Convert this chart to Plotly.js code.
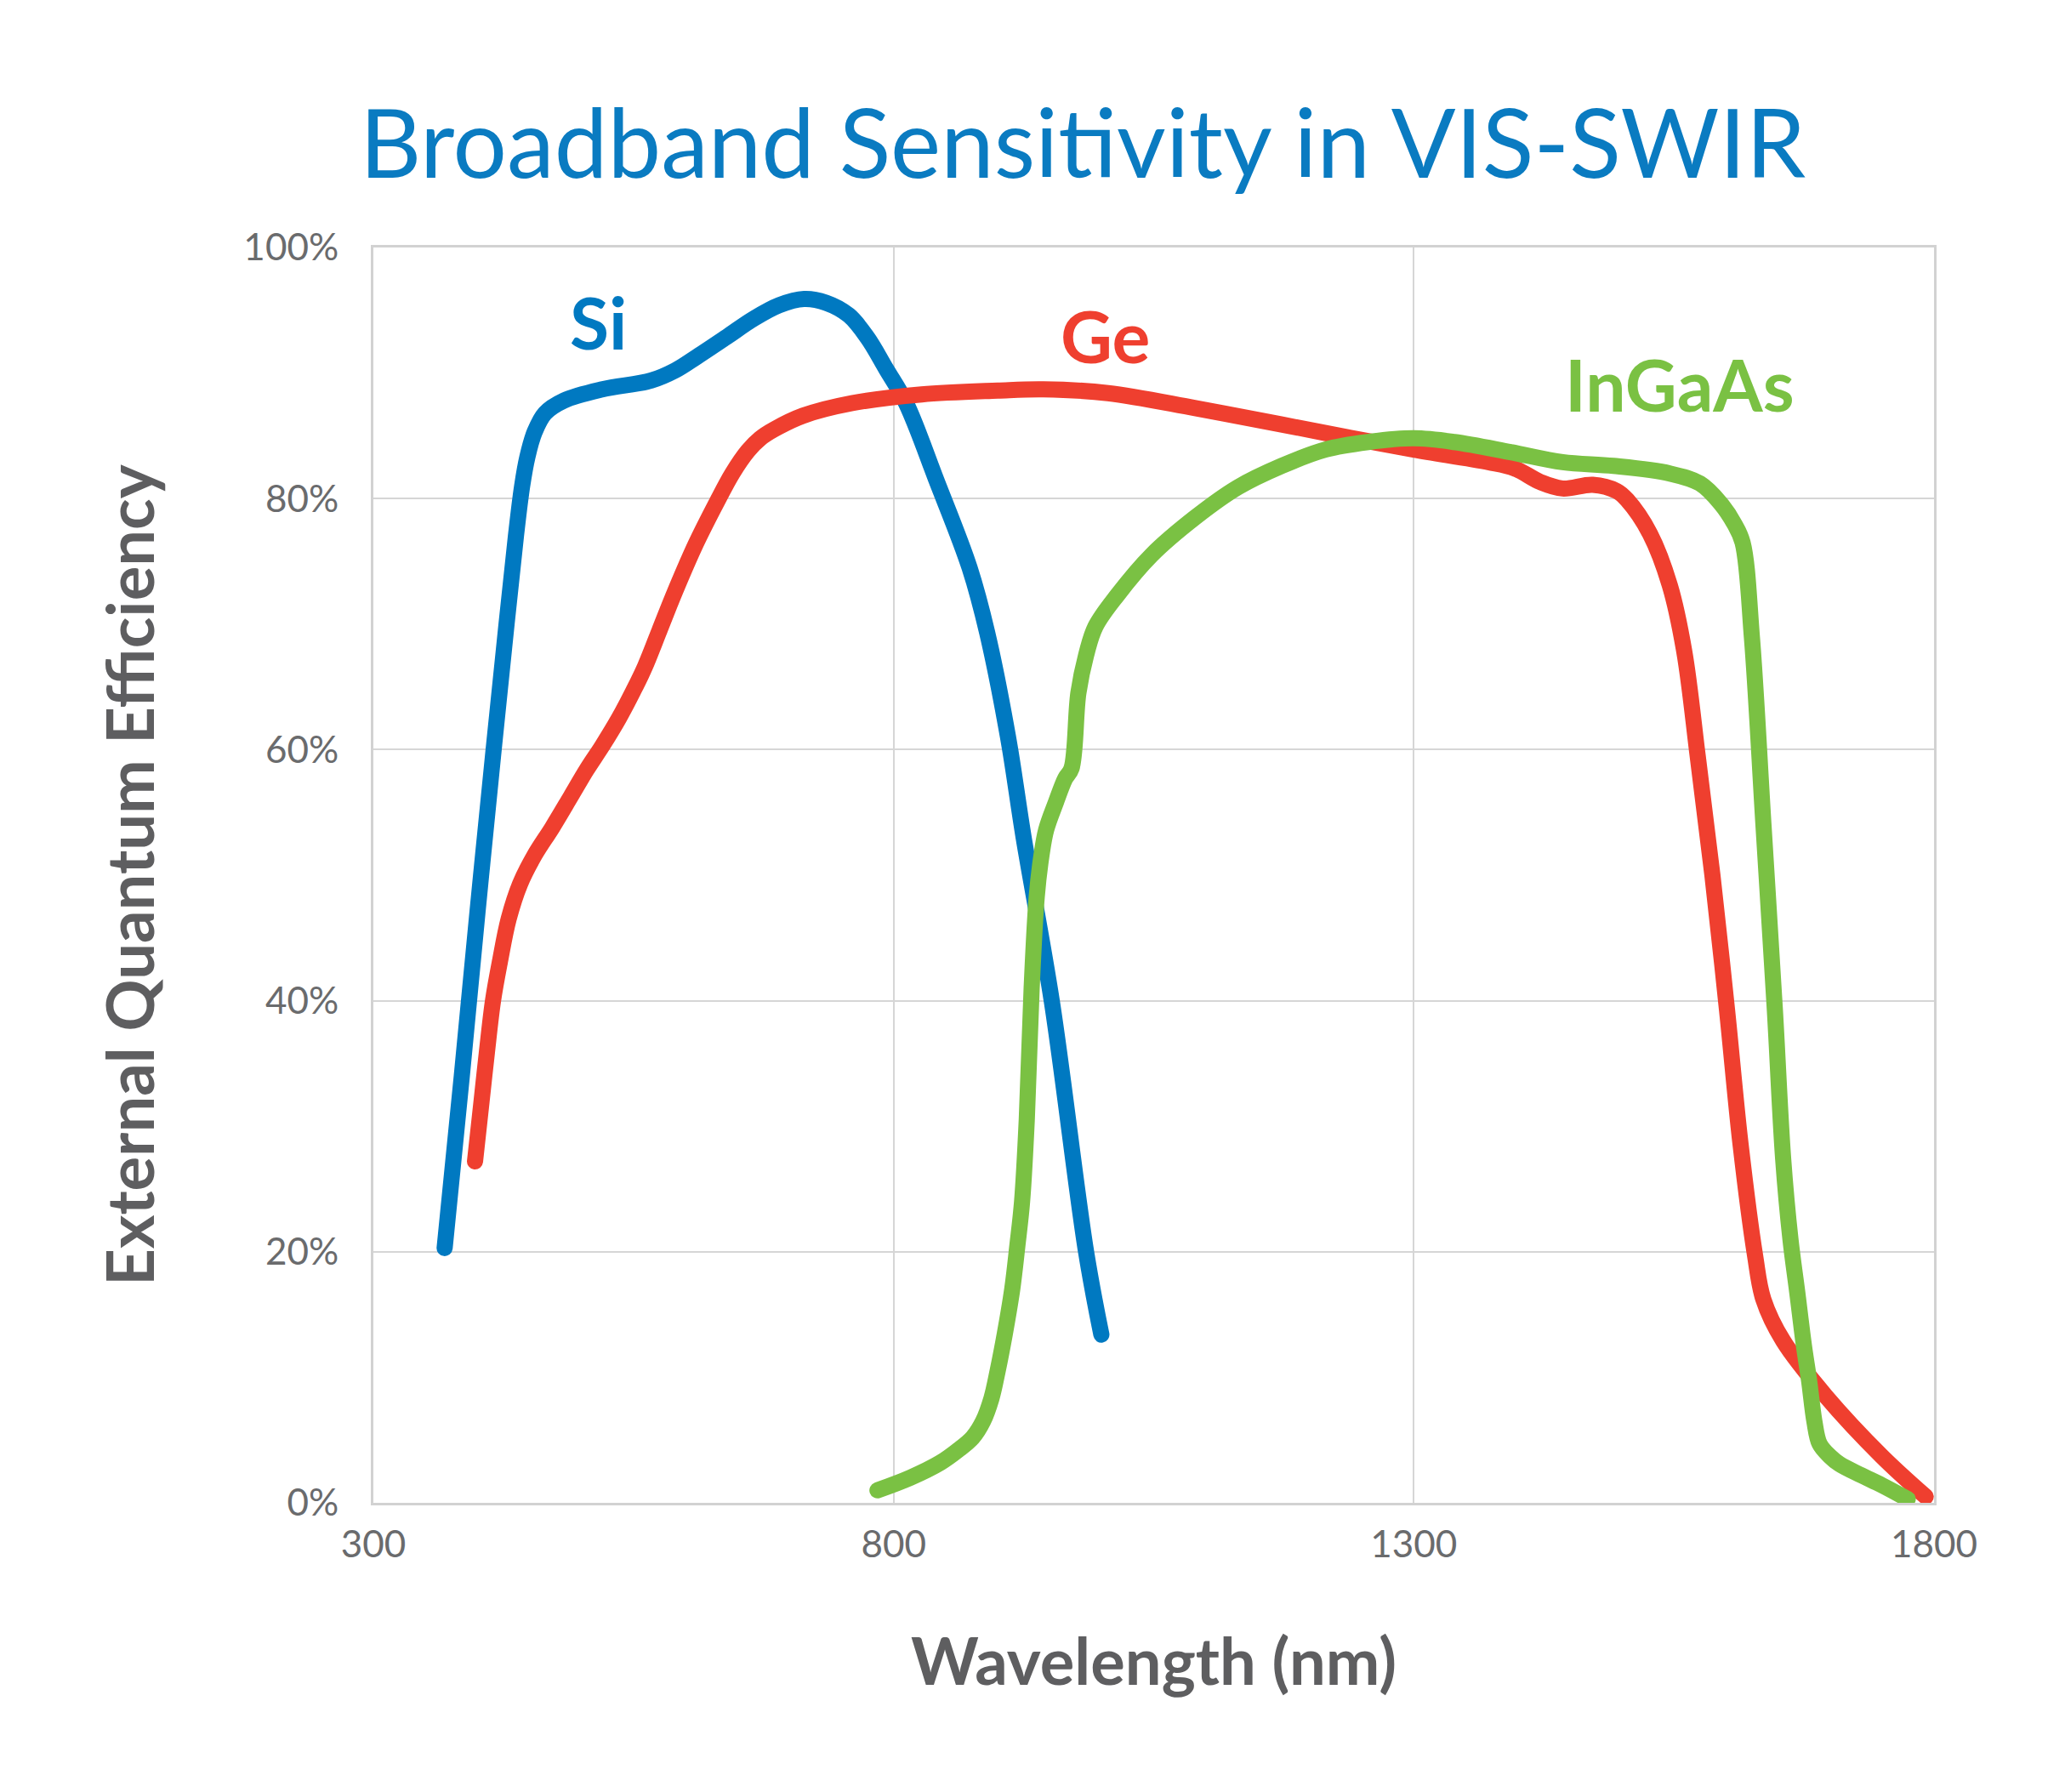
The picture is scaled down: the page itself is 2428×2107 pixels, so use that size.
<!DOCTYPE html>
<html>
<head>
<meta charset="utf-8">
<script src="https://cdn.plot.ly/plotly-3.0.1.min.js"></script>
<style>
  html, body { margin: 0; padding: 0; background: #ffffff; }
  #chart { width: 2428px; height: 2107px; }
  path.js-line { stroke-linecap: round !important; }
</style>
</head>
<body>
<div id="chart"></div>
<script>
// ---- Data ----
const siWavelength = [368.5, 385, 400, 415, 428, 437, 443, 448, 455, 465, 483, 520, 567, 590, 611, 640, 665, 690, 714, 735, 757, 775, 793, 812, 841, 873, 890, 910, 925, 952, 985, 999.7];
const siQE         = [20.3, 34, 47, 59.5, 70, 77, 81, 83.3, 85.3, 86.8, 87.8, 88.7, 89.4, 90.2, 91.3, 92.9, 94.3, 95.4, 95.9, 95.6, 94.6, 92.8, 90.3, 87.6, 81.5, 74.5, 69.3, 61, 53, 40, 20, 13.4];

const geWavelength = [397.7, 404, 409, 415, 421.6, 430, 441, 455, 472, 490, 505, 520, 536, 550, 561, 575, 590, 610, 630, 645, 660, 672, 685, 713, 760, 827, 900, 944, 1006, 1090, 1173, 1235, 1300, 1372, 1397, 1422, 1443, 1472, 1495, 1505, 1527, 1546, 1560, 1573, 1587, 1601, 1614, 1628, 1636, 1655, 1696, 1750, 1792];
const geQE         = [27.2, 32, 35.8, 40, 43.1, 46.5, 49.3, 51.6, 53.8, 56.3, 58.4, 60.3, 62.5, 64.7, 66.6, 69.5, 72.6, 76.4, 79.7, 82, 83.8, 84.8, 85.5, 86.6, 87.6, 88.3, 88.6, 88.7, 88.4, 87.2, 85.9, 84.9, 83.9, 82.9, 82.4, 81.3, 80.8, 81.1, 80.6, 79.9, 77.2, 73.1, 67.8, 59.4, 50, 39.3, 28.6, 19.7, 16.2, 12.9, 8.5, 3.7, 0.5];

const ingaasWavelength = [784.5, 816, 845, 862, 876, 886, 894, 900, 907, 914, 919, 923.5, 928, 932.7, 937.6, 942, 946.6, 956, 965, 971, 977.6, 985, 994, 1015, 1048, 1090, 1131, 1173, 1215, 1256, 1300, 1339, 1393, 1443, 1492, 1546, 1575, 1595, 1608, 1616, 1625, 1636, 1647, 1655, 1662, 1668.5, 1675, 1680, 1685, 1690, 1700, 1709, 1730, 1750, 1774.7];
const ingaasQE         = [1.0, 2.0, 3.2, 4.2, 5.2, 6.5, 8.3, 10.5, 13.5, 17, 20.5, 24, 30.5, 41, 48.3, 51.5, 53.6, 55.8, 57.7, 58.5, 64.5, 67.5, 69.8, 72.3, 75.5, 78.5, 80.9, 82.6, 83.9, 84.5, 84.8, 84.5, 83.7, 82.9, 82.6, 82, 81.2, 79.6, 78, 76.5, 68.9, 54.1, 39.3, 27.4, 21, 16.8, 12.5, 9.7, 6.5, 4.7, 3.7, 3.1, 2.2, 1.4, 0.3];

const seriesNames  = ["Si", "Ge", "InGaAs"];
const labelX       = [516.6, 1003, 1555.6];
const labelY       = [94.1, 93.0, 89.1];

const xTickVals = [300, 800, 1300, 1800];
const xTickText = ["300", "800", "1300", "1800"];
const yTickVals = [0, 20, 40, 60, 80, 100];
const yTickText = ["0%", "20%", "40%", "60%", "80%", "100%"];

// ---- Styles ----
const colors = ["#0079c1", "#ef3f2f", "#7ac143"];
const lineW = 19;

const xs = [siWavelength, geWavelength, ingaasWavelength];
const ys = [siQE, geQE, ingaasQE];

const traces = seriesNames.map((n, i) => ({
  type: "scatter",
  mode: "lines",
  name: n,
  x: xs[i],
  y: ys[i],
  line: { color: colors[i], width: lineW, shape: "spline", smoothing: 1 },
  hoverinfo: "skip"
}));

const annotations = seriesNames.map((n, i) => ({
  text: n,
  x: labelX[i],
  y: labelY[i],
  xref: "x",
  yref: "y",
  showarrow: false,
  xanchor: "center",
  yanchor: "middle",
  font: { family: "Lato, 'Open Sans', sans-serif", size: 84, color: colors[i], weight: "bold" }
}));

const tickFont = { family: "Lato, 'Open Sans', sans-serif", size: 44, color: "#6a6b6d" };
const axisTitleFont = { family: "Lato, 'Open Sans', sans-serif", size: 76, color: "#5e5e60", weight: "bold" };

const layout = {
  width: 2428,
  height: 2107,
  paper_bgcolor: "#ffffff",
  plot_bgcolor: "#ffffff",
  showlegend: false,
  margin: { l: 439, r: 154, t: 291, b: 340, pad: 0 },
  title: {
    text: "Broadband Sensitivity in VIS-SWIR",
    font: { family: "Lato, 'Open Sans', sans-serif", size: 112, color: "#0a7bc1" },
    x: 1273 / 2428,
    xanchor: "center",
    xref: "container",
    y: 1 - 170 / 2107,
    yanchor: "middle",
    yref: "container"
  },
  xaxis: {
    range: [300, 1800],
    tickvals: xTickVals,
    ticktext: xTickText,
    ticks: "",
    tickfont: tickFont,
    ticklabelstandoff: 8,
    showgrid: true,
    gridcolor: "#d6d6d6",
    gridwidth: 2,
    zeroline: false,
    showline: true,
    linecolor: "#d2d2d2",
    linewidth: 3,
    mirror: true,
    automargin: false,
    title: { text: "Wavelength (nm)", font: axisTitleFont, standoff: 90 }
  },
  yaxis: {
    range: [0, 100],
    tickvals: yTickVals,
    ticktext: yTickText,
    ticks: "",
    tickfont: tickFont,
    ticklabelstandoff: 29,
    showgrid: true,
    gridcolor: "#d6d6d6",
    gridwidth: 2,
    zeroline: false,
    showline: true,
    linecolor: "#d2d2d2",
    linewidth: 3,
    mirror: true,
    automargin: false,
    title: { text: "External Quantum Efficiency", font: axisTitleFont, standoff: 80 }
  },
  annotations: annotations
};

Plotly.newPlot("chart", traces, layout, { staticPlot: true, displayModeBar: false });
</script>
</body>
</html>
